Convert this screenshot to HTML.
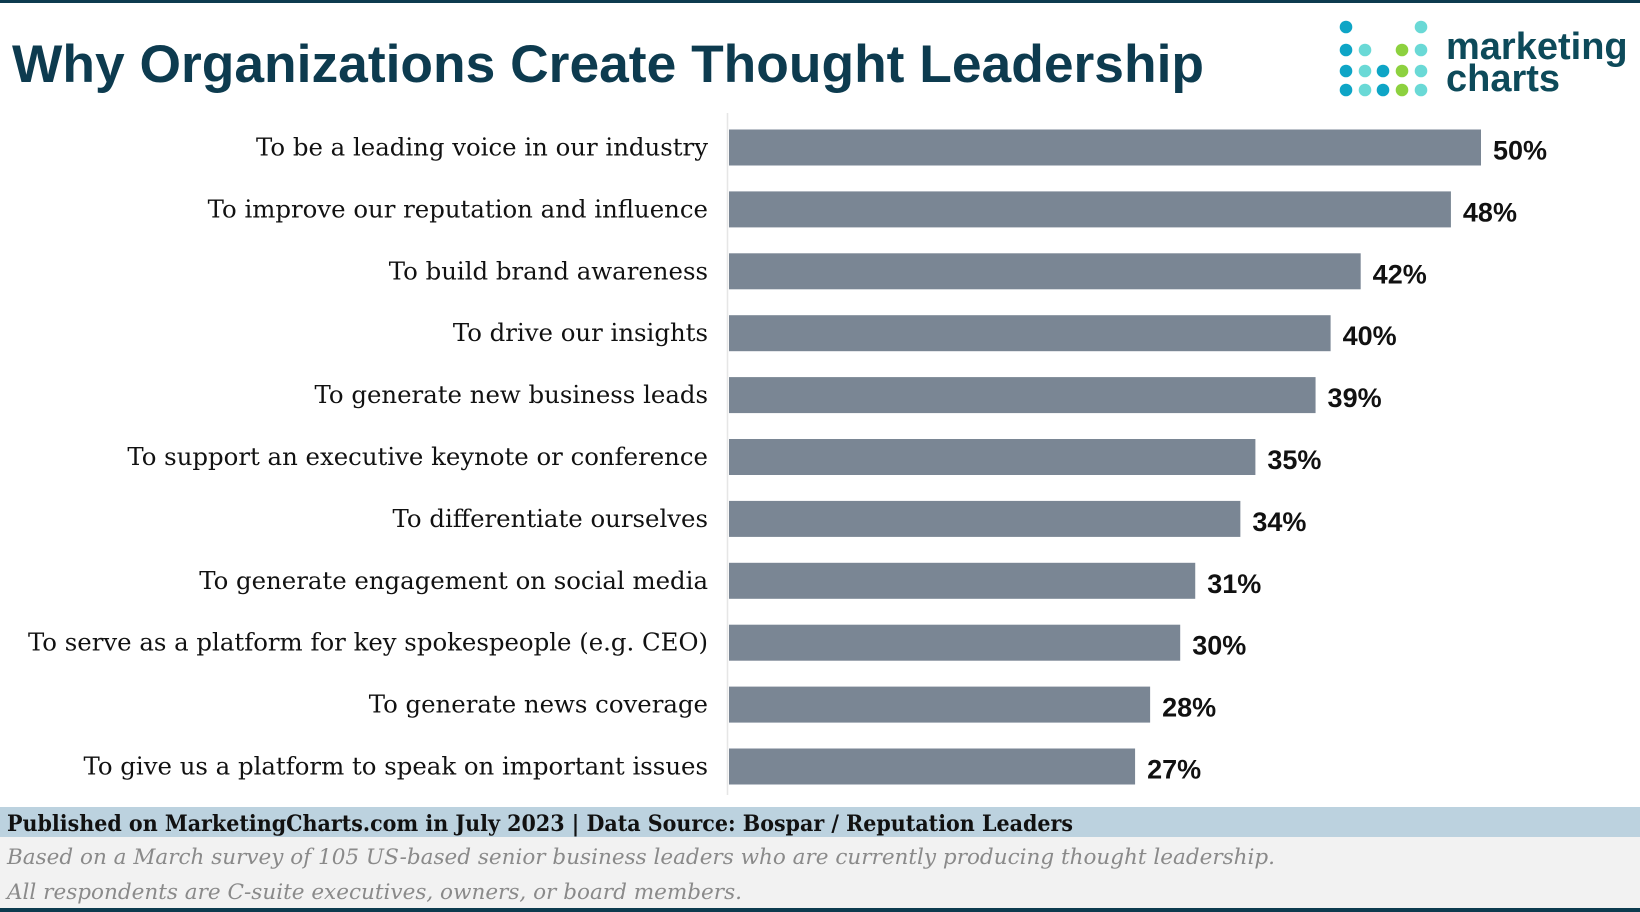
<!DOCTYPE html>
<html><head><meta charset="utf-8"><style>
html,body{margin:0;padding:0;background:#fff;}
svg{display:block;}
</style></head><body>
<svg width="1640" height="912" viewBox="0 0 1640 912" xmlns="http://www.w3.org/2000/svg">
<rect x="0" y="0" width="1640" height="3" fill="#0d3b4f"/>
<text x="12" y="82" font-family="Liberation Sans, sans-serif" font-weight="bold" font-size="53" fill="#0d3b4f" textLength="1192" lengthAdjust="spacingAndGlyphs">Why Organizations Create Thought Leadership</text>
<g id="logo"></g>
<text x="1446" y="59" font-family="Liberation Sans, sans-serif" font-weight="bold" font-size="38" fill="#0d4a5a">marketing</text>
<text x="1446" y="91" font-family="Liberation Sans, sans-serif" font-weight="bold" font-size="38" fill="#0d4a5a">charts</text>
<line x1="727.5" y1="113" x2="727.5" y2="795" stroke="#e6e6e6" stroke-width="1.5"/>
<g id="bars"></g>
<rect x="0" y="807" width="1640" height="30" fill="#bcd2df"/>
<text x="7" y="831" font-family="DejaVu Serif, serif" font-weight="bold" font-size="22" fill="#111" textLength="1066" lengthAdjust="spacingAndGlyphs">Published on MarketingCharts.com in July 2023 | Data Source: Bospar / Reputation Leaders</text>
<rect x="0" y="837" width="1640" height="71" fill="#f2f2f2"/>
<text x="7" y="864" font-family="DejaVu Serif, serif" font-style="italic" font-size="21" fill="#8a8a8a" textLength="1268" lengthAdjust="spacingAndGlyphs">Based on a March survey of 105 US-based senior business leaders who are currently producing thought leadership.</text>
<text x="7" y="899" font-family="DejaVu Serif, serif" font-style="italic" font-size="21" fill="#8a8a8a" textLength="735" lengthAdjust="spacingAndGlyphs">All respondents are C-suite executives, owners, or board members.</text>
<rect x="0" y="908" width="1640" height="4" fill="#0d3b4f"/>
</svg>
<script>
const categories = ["To be a leading voice in our industry","To improve our reputation and influence","To build brand awareness","To drive our insights","To generate new business leads","To support an executive keynote or conference","To differentiate ourselves","To generate engagement on social media","To serve as a platform for key spokespeople (e.g. CEO)","To generate news coverage","To give us a platform to speak on important issues"];
const values = [50,48,42,40,39,35,34,31,30,28,27];
const valueLabels = ["50%","48%","42%","40%","39%","35%","34%","31%","30%","28%","27%"];
const NS="http://www.w3.org/2000/svg";
const x0=729, pxPerPct=15.04;
function xScale(v){return x0+v*pxPerPct;}
function yCenter(i){return 147.5+i*61.9;}
const g=document.getElementById('bars');
categories.forEach((c,i)=>{
  const yc=yCenter(i);
  const r=document.createElementNS(NS,'rect');
  r.setAttribute('x',x0);r.setAttribute('y',yc-18);
  r.setAttribute('width',xScale(values[i])-x0);r.setAttribute('height',36);
  r.setAttribute('fill','#7a8694');
  
  
  g.appendChild(r);
  const t=document.createElementNS(NS,'text');
  t.setAttribute('x',708);t.setAttribute('y',yc+8);
  t.setAttribute('text-anchor','end');
  t.setAttribute('font-family','DejaVu Serif, serif');
  t.setAttribute('font-size','24.4');t.setAttribute('fill','#111');
  t.textContent=c;
  
  
  g.appendChild(t);
  const v=document.createElementNS(NS,'text');
  v.setAttribute('x',xScale(values[i])+12);v.setAttribute('y',yc+12);
  v.setAttribute('font-family','Liberation Sans, sans-serif');
  v.setAttribute('font-weight','bold');v.setAttribute('font-size','27');v.setAttribute('fill','#111');
  v.textContent=valueLabels[i];
  
  
  g.appendChild(v);
});
const logo=document.getElementById('logo');
const cols=[1346,1365,1383,1402,1421], rows=[27,50,71,90];
const dotCols=[["#0ea5c6","#0ea5c6","#0ea5c6","#0ea5c6"],[null,"#6ad9d6","#6ad9d6","#6ad9d6"],[null,null,"#0ea5c6","#0ea5c6"],[null,"#8dd13f","#8dd13f","#8dd13f"],["#6ad9d6","#6ad9d6","#6ad9d6","#6ad9d6"]];
dotCols.forEach((col,ci)=>col.forEach((clr,ri)=>{
  if(!clr)return;
  const d=document.createElementNS(NS,'circle');
  d.setAttribute('cx',cols[ci]);d.setAttribute('cy',rows[ri]);d.setAttribute('r',6.3);d.setAttribute('fill',clr);
  
  
  logo.appendChild(d);
}));
</script>
</body></html>
